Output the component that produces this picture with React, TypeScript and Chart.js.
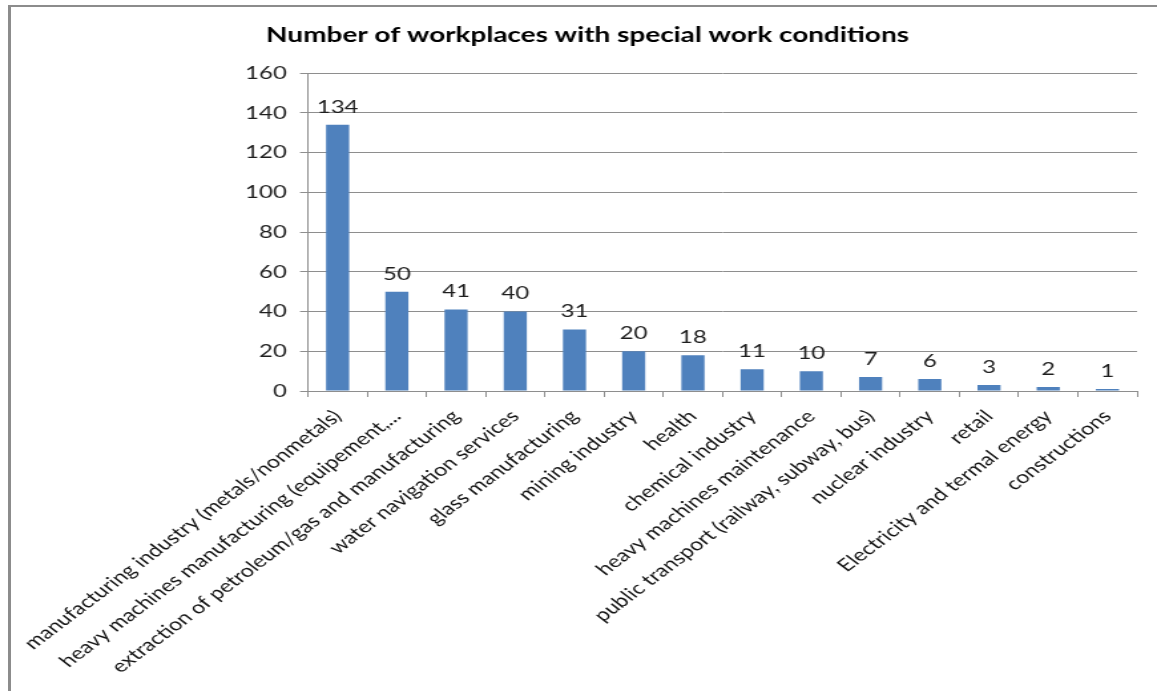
import React, { useEffect, useRef } from "react";
import { Chart, registerables } from "chart.js";

Chart.register(...registerables);

const TITLE = "Number of workplaces with special work conditions";

const categories = [
  "manufacturing industry (metals/nonmetals)",
  "heavy machines manufacturing (equipement,...",
  "extraction of petroleum/gas and manufacturing",
  "water navigation services",
  "glass manufacturing",
  "mining industry",
  "health",
  "chemical industry",
  "heavy machines maintenance",
  "public transport (railway, subway, bus)",
  "nuclear industry",
  "retail",
  "Electricity and termal energy",
  "constructions",
];

const workplaces = [134, 50, 41, 40, 31, 20, 18, 11, 10, 7, 6, 3, 2, 1];

const yTicks = [0, 20, 40, 60, 80, 100, 120, 140, 160];

const W = 870;
const H = 691;
const SX = 1157 / W;

const FONT = "Lato, 'Open Sans', sans-serif";

const valueLabels = {
  id: "valueLabels",
  afterDatasetsDraw(chart: any) {
    const ctx = chart.ctx;
    const meta = chart.getDatasetMeta(0);
    ctx.save();
    ctx.font = `18px ${FONT}`;
    ctx.fillStyle = "#1e1e1e";
    ctx.textAlign = "center";
    ctx.textBaseline = "bottom";
    meta.data.forEach((bar: any, i: number) => {
      ctx.fillText(String(workplaces[i]), bar.x, bar.y - 9);
    });
    ctx.restore();
  },
};

export default function App() {
  const ref = useRef<HTMLCanvasElement | null>(null);

  useEffect(() => {
    if (!ref.current) return;
    const chart = new Chart(ref.current, {
      type: "bar",
      data: {
        labels: categories,
        datasets: [
          {
            data: workplaces,
            backgroundColor: "#4F81BD",
            borderWidth: 0,
            barPercentage: 0.39,
            categoryPercentage: 1,
          },
        ],
      },
      plugins: [valueLabels],
      options: {
        responsive: false,
        animation: false,
        layout: { padding: { left: 28.6, right: 15, top: 0, bottom: 0 } },
        plugins: {
          legend: { display: false },
          tooltip: { enabled: false },
          title: {
            display: true,
            text: TITLE,
            color: "#000",
            font: { family: FONT, size: 21, weight: "bold" },
            padding: { top: 23, bottom: 25 },
          },
        },
        scales: {
          x: {
            grid: {
              display: true,
              drawOnChartArea: false,
              drawTicks: true,
              tickLength: 6,
              color: "#8e8e8e",
              offset: true,
            },
            border: { display: true, color: "#8e8e8e" },
            ticks: {
              autoSkip: false,
              maxRotation: 45,
              minRotation: 45,
              color: "#141414",
              padding: 9,
              font: { family: FONT, size: 17.5 },
            },
            afterFit(scale: any) {
              scale.height = 300;
            },
          },
          y: {
            min: 0,
            max: 160,
            afterBuildTicks(scale: any) {
              scale.ticks = yTicks.map((v) => ({ value: v }));
            },
            grid: {
              color: "#8e8e8e",
              tickLength: 6,
              lineWidth: 1,
            },
            border: { display: true, color: "#8e8e8e" },
            ticks: {
              color: "#1e1e1e",
              padding: 10,
              font: { family: FONT, size: 18 },
            },
            afterFit(scale: any) {
              scale.width = 203;
            },
          },
        },
      },
    } as any);
    return () => chart.destroy();
  }, []);

  return (
    <div
      style={{
        position: "absolute",
        left: 0,
        top: 0,
        width: 1157,
        height: 691,
        overflow: "hidden",
        background: "#fff",
      }}
    >
      <div
        style={{
          position: "absolute",
          left: 0,
          top: 0,
          width: W,
          height: H,
          transform: `scaleX(${SX})`,
          transformOrigin: "0 0",
        }}
      >
        <canvas ref={ref} width={W} height={H} />
      </div>
      <div
        style={{
          position: "absolute",
          left: 8,
          top: 5,
          width: 1300,
          height: 900,
          borderTop: "2px solid #8c8c8c",
          borderLeft: "3px solid #8c8c8c",
          pointerEvents: "none",
        }}
      />
    </div>
  );
}
